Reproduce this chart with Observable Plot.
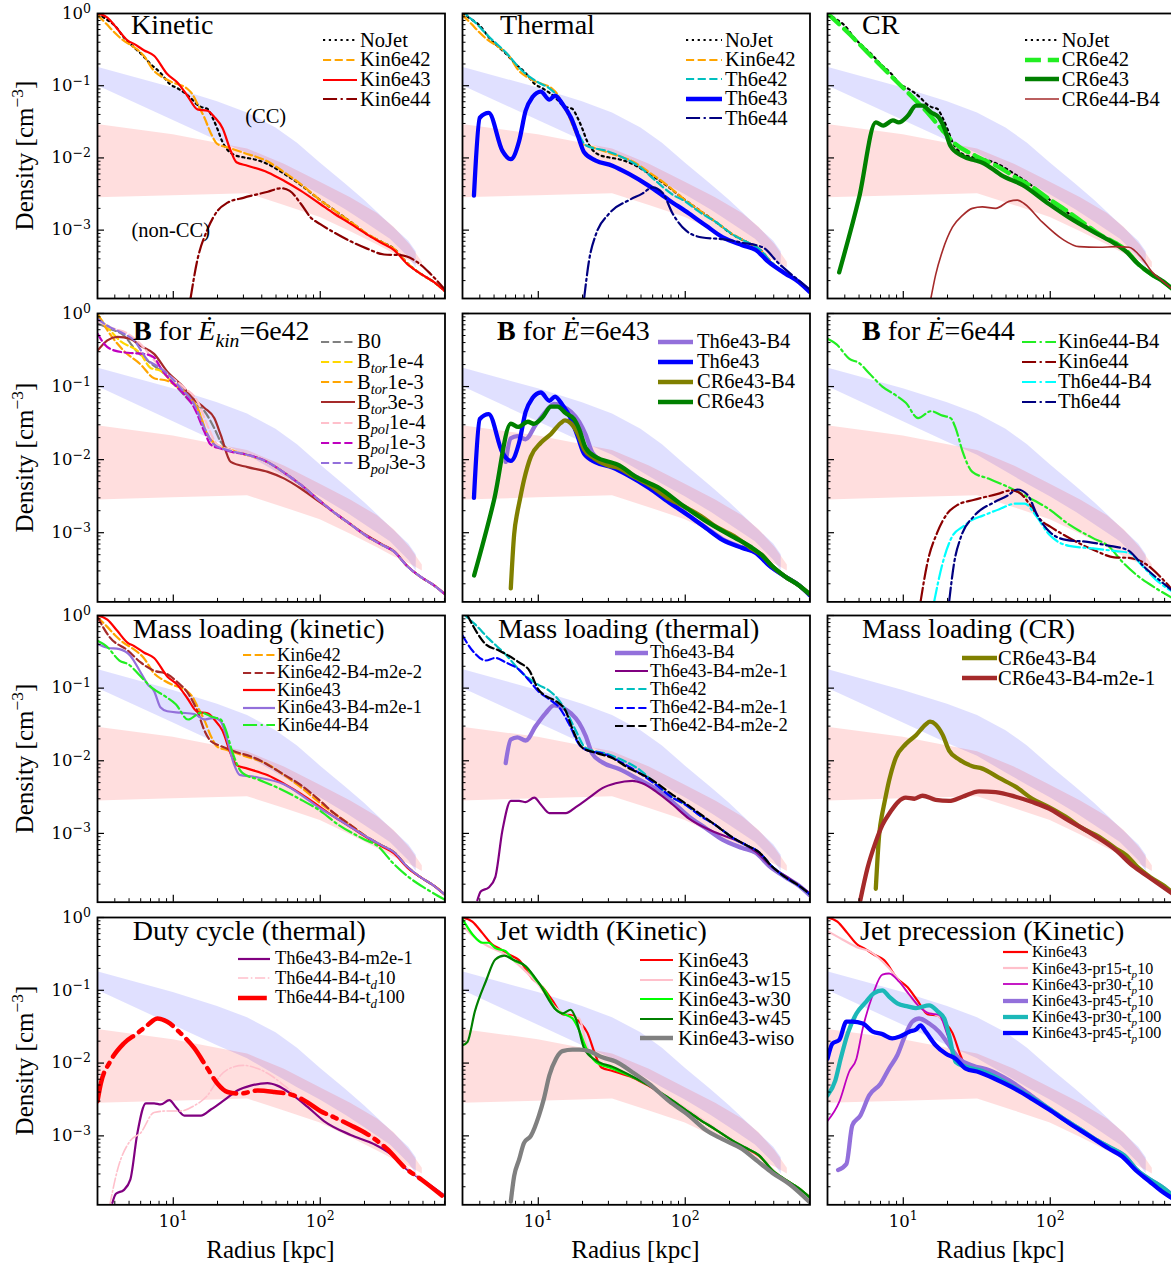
<!DOCTYPE html>
<html>
<head>
<meta charset="utf-8">
<script src="https://cdn.jsdelivr.net/npm/d3@7"></script>
<script src="https://cdn.jsdelivr.net/npm/@observablehq/plot@0.6"></script>
<style>
  body { margin: 0; background: #fff; }
  #fig { position: relative; width: 1171px; height: 1267px; overflow: hidden; background: #fff;
         font-family: "Liberation Serif", "DejaVu Serif", serif; color: #000; }
  .abs { position: absolute; white-space: nowrap; line-height: 1; }
  .abs sub, .abs sup { font-size: 0.7em; line-height: 0; }
  #fig svg text.ticklab { font-family: "DejaVu Serif", serif !important; font-size: 16.5px !important; }
  #fig svg text.ticklab tspan.exp { font-size: 12.5px !important; }
</style>
</head>
<body>
<div id="fig"></div>
<script>
// ---------- density profiles: [radius (kpc), electron density (cm^-3)] ----------
const noJet = [[3.05,1.0],[3.6,0.8],[4.0,0.68],[4.6,0.47],[5.4,0.34],[6.0,0.28],[7.0,0.2],[8.2,0.15],[9.5,0.105],[10.7,0.092],[11.9,0.08],[13.1,0.068],[14.5,0.055],[15.8,0.05],[17,0.048],[18.5,0.036],[20,0.025],[21.5,0.017],[23,0.0135],[26,0.011],[30,0.0102],[36,0.0095],[44,0.0082],[57,0.006],[74,0.0042],[100,0.0026],[124,0.0019],[161,0.0013],[210,0.00087],[260,0.00069],[318,0.00055],[390,0.00035],[480,0.00025],[595,0.00019],[706,0.000143]];
const kin6e42 = [[3.05,0.95],[3.5,0.72],[4.0,0.54],[4.6,0.42],[5.2,0.36],[6.3,0.26],[7.4,0.16],[8.5,0.13],[10,0.11],[11.5,0.1],[12.5,0.09],[13.5,0.076],[14.6,0.056],[16.3,0.036],[18,0.022],[20,0.0155],[23.4,0.014],[30,0.0118],[44,0.0089],[57,0.0063],[74,0.0043],[100,0.0026],[124,0.0019],[161,0.0013],[210,0.00088],[260,0.00069],[318,0.00055],[390,0.00035],[480,0.00025],[595,0.00019],[706,0.000143]];
const kin6e43 = [[3.05,1.0],[3.56,0.88],[4.17,0.61],[4.9,0.42],[5.4,0.38],[6.3,0.31],[7.4,0.26],[9.1,0.145],[10.7,0.11],[12.5,0.072],[14.6,0.047],[17.1,0.045],[19,0.037],[21.6,0.026],[24.6,0.0125],[26.9,0.0087],[32,0.0078],[44,0.0063],[57,0.0048],[74,0.0035],[100,0.0023],[124,0.0017],[161,0.00122],[210,0.00086],[260,0.00067],[318,0.00053],[390,0.00034],[480,0.00025],[595,0.00019],[706,0.000142]];
const kin6e44 = [[13.1,0.000113],[14.6,0.00039],[17,0.001],[20,0.00185],[23.4,0.0024],[30,0.0028],[44,0.0034],[54,0.0038],[62,0.0035],[74,0.0023],[86,0.0015],[100,0.00121],[124,0.00093],[161,0.0007],[210,0.00055],[272,0.00046],[353,0.00045],[458,0.00036],[560,0.00025],[706,0.00015]];
const th6e42 = [[3.05,1.15],[3.2,1.0],[3.7,0.76],[4.6,0.48],[6.0,0.29],[7.8,0.16],[10.1,0.11],[11.9,0.092],[13.2,0.076],[15.4,0.049],[18,0.026],[21,0.015],[29,0.0125],[37,0.0103],[49,0.0075],[63,0.0048],[82,0.0031],[100,0.0025],[124,0.0018],[161,0.0013],[210,0.00087],[260,0.00069],[318,0.00055],[390,0.00035],[480,0.00025],[595,0.00019],[706,0.000143]];
const th6e43 = [[3.65,0.003],[4.0,0.036],[4.6,0.042],[5.7,0.0125],[6.5,0.0096],[7.4,0.017],[8.2,0.045],[9.1,0.069],[10.4,0.083],[11.9,0.064],[13.0,0.073],[14.6,0.056],[16.7,0.036],[18.5,0.021],[20.5,0.012],[24.6,0.0092],[31.9,0.0078],[41.4,0.006],[56.6,0.0041],[77.6,0.0026],[106,0.0017],[138,0.00116],[179,0.0008],[244,0.00062],[302,0.00053],[370,0.00036],[480,0.00025],[595,0.00019],[706,0.000138]];
const th6e44 = [[20.5,0.000113],[22.2,0.00039],[24.6,0.00086],[30.4,0.0017],[41.4,0.0026],[51,0.0032],[59.8,0.0039],[70,0.0033],[82,0.0017],[101,0.00099],[131,0.00079],[179,0.00075],[244,0.00067],[335,0.00058],[436,0.00034],[593,0.0002],[706,0.00015]];
const cr6e42 = [[3.05,1.0],[4.3,0.52],[5.6,0.3],[7.2,0.18],[9.4,0.105],[12.2,0.062],[15,0.04],[18.5,0.024],[22.7,0.0155],[31,0.0107],[45,0.0074],[58,0.0054],[75,0.004],[98,0.0027],[127,0.0019],[165,0.0013],[215,0.00088],[279,0.00066],[330,0.00052],[390,0.00035],[480,0.00025],[595,0.00019],[706,0.000143]];
const cr6e43 = [[3.66,0.00026],[5.0,0.0028],[6.5,0.031],[7.3,0.028],[8.5,0.033],[9.3,0.031],[10.7,0.038],[12.2,0.053],[13.5,0.053],[15.4,0.043],[17.5,0.036],[19,0.026],[21,0.0145],[25,0.0107],[31,0.0092],[34.5,0.0086],[47,0.0057],[65,0.0042],[98,0.0023],[134,0.0015],[215,0.00086],[279,0.00064],[330,0.0005],[390,0.00035],[480,0.00025],[595,0.00019],[706,0.000143]];
const cr6e44B4 = [[15.4,0.000113],[16.6,0.00024],[18.5,0.00052],[21.6,0.0011],[25.3,0.0016],[29.5,0.002],[34.5,0.0021],[42.5,0.002],[52.4,0.0025],[59.8,0.0026],[67,0.0023],[88,0.0013],[121,0.00075],[157,0.00059],[215,0.00058],[279,0.00059],[343,0.00058],[424,0.0004],[496,0.00026],[575,0.0002],[706,0.000143]];
const b0 = [[3.05,0.73],[3.7,0.62],[4.6,0.5],[5.6,0.31],[7,0.21],[8.7,0.15],[10.7,0.096],[13,0.063],[16.3,0.046],[19,0.027],[21,0.0176],[24.6,0.0135],[30,0.012],[44,0.0092],[57,0.0066],[74,0.0045],[100,0.0027],[124,0.0019],[161,0.0013],[210,0.00088],[260,0.00069],[318,0.00055],[390,0.00035],[480,0.00025],[595,0.00019],[706,0.000143]];
const btor1e4 = [[3.05,0.95],[3.56,0.65],[4.3,0.43],[6,0.28],[7,0.18],[8.2,0.165],[9.6,0.12],[12.5,0.078],[14.6,0.051],[17.1,0.022],[20,0.015],[24.6,0.0135],[30,0.012],[44,0.0092],[57,0.0066],[74,0.0045],[100,0.0027],[124,0.0019],[161,0.0013],[210,0.00088],[260,0.00069],[318,0.00055],[390,0.00035],[480,0.00025],[595,0.00019],[706,0.000143]];
const btor1e3 = [[3.05,1.0],[3.56,0.59],[4.6,0.31],[6,0.2],[7.4,0.13],[9.1,0.12],[11.9,0.082],[14.6,0.051],[17,0.022],[20,0.016],[24.6,0.0135],[30,0.012],[44,0.0092],[57,0.0066],[74,0.0045],[100,0.0027],[124,0.0019],[161,0.0013],[210,0.00088],[260,0.00069],[318,0.00055],[390,0.00035],[480,0.00025],[595,0.00019],[706,0.000143]];
const btor3e3 = [[3.05,0.31],[3.56,0.43],[4.17,0.48],[5.1,0.45],[6,0.36],[7.4,0.28],[9.1,0.16],[11.2,0.108],[13.9,0.066],[16.3,0.051],[19,0.037],[21,0.022],[24.6,0.0093],[32,0.0079],[44,0.0068],[57,0.0055],[74,0.004],[100,0.0026],[124,0.0019],[161,0.0013],[210,0.0009],[260,0.0007],[318,0.00056],[390,0.00035],[480,0.00025],[595,0.00019],[706,0.000145]];
const bpol1e4 = [[3.05,0.81],[3.7,0.65],[4.9,0.53],[6,0.38],[7.4,0.23],[9.1,0.15],[11.9,0.096],[14.6,0.063],[17,0.03],[20,0.016],[24.6,0.0135],[30,0.012],[44,0.0092],[57,0.0066],[74,0.0045],[100,0.0027],[124,0.0019],[161,0.0013],[210,0.00088],[260,0.00069],[318,0.00055],[390,0.00035],[480,0.00025],[595,0.00019],[706,0.000143]];
const bpol1e3 = [[3.05,0.53],[3.4,0.38],[4.0,0.31],[4.9,0.29],[6.3,0.28],[7.4,0.25],[8.2,0.18],[9.6,0.12],[11.9,0.078],[13.9,0.051],[16.3,0.024],[18,0.016],[21,0.0142],[26,0.0125],[30,0.012],[44,0.0092],[57,0.0066],[74,0.0045],[100,0.0027],[124,0.0019],[161,0.0013],[210,0.00088],[260,0.00069],[318,0.00055],[390,0.00035],[480,0.00025],[595,0.00019],[706,0.000143]];
const bpol3e3 = [[3.05,0.85],[3.7,0.65],[4.6,0.53],[5.4,0.43],[6.7,0.23],[7.8,0.19],[9.1,0.15],[11.2,0.096],[13.9,0.057],[16.3,0.027],[19,0.016],[23.4,0.0135],[30,0.012],[44,0.0092],[57,0.0066],[74,0.0045],[100,0.0027],[124,0.0019],[161,0.0013],[210,0.00088],[260,0.00069],[318,0.00055],[390,0.00035],[480,0.00025],[595,0.00019],[706,0.000143]];
const th6e43B4 = [[6.0,0.0093],[6.5,0.0196],[7.2,0.021],[8.2,0.019],[9.6,0.03],[11.2,0.045],[12.8,0.058],[14.6,0.054],[16.7,0.045],[19,0.033],[21,0.022],[23.3,0.0125],[27.3,0.0095],[35.5,0.0077],[48.6,0.0055],[63,0.0041],[82,0.0027],[106,0.0017],[138,0.00118],[179,0.00082],[244,0.00063],[302,0.00054],[370,0.00036],[480,0.00025],[595,0.00019],[706,0.00014]];
const cr6e43B4 = [[6.5,0.000173],[6.85,0.00095],[7.2,0.0019],[7.4,0.0025],[8.0,0.0053],[8.9,0.011],[10.4,0.017],[12.2,0.0225],[14.2,0.0316],[15.2,0.0345],[16.6,0.0316],[18.5,0.0229],[20.5,0.0138],[24,0.0104],[29.5,0.0084],[34.5,0.0078],[44.9,0.0058],[58,0.0044],[75.5,0.003],[98,0.0023],[127,0.0017],[165,0.00118],[215,0.0009],[279,0.00062],[330,0.0005],[390,0.00035],[480,0.00025],[595,0.00019],[706,0.000143]];
const kin6e44B4 = [[3.05,0.45],[3.5,0.38],[4.3,0.24],[5,0.21],[5.9,0.15],[7.2,0.1],[8.9,0.076],[10.4,0.06],[12.6,0.037],[15.4,0.046],[18.5,0.04],[21,0.037],[22.7,0.027],[25.3,0.013],[29.5,0.0068],[38,0.0055],[52,0.0042],[72,0.003],[98,0.0021],[134,0.0013],[194,0.00085],[250,0.00065],[309,0.0004],[400,0.00025],[520,0.000175],[706,0.000122]];
const th6e44B4 = [[16.2,0.000113],[18.5,0.00038],[21.6,0.0009],[25.3,0.0012],[29.5,0.0015],[34.5,0.0017],[45,0.0021],[58,0.0025],[67,0.0025],[80,0.0017],[98,0.00095],[134,0.00066],[194,0.00061],[279,0.00056],[343,0.00053],[424,0.00035],[520,0.00023],[706,0.000148]];
const kin6e42B4m2e2 = [[3.05,0.95],[3.7,0.5],[4.9,0.33],[6,0.226],[7.4,0.174],[9.1,0.156],[10.7,0.12],[12.5,0.087],[14.6,0.048],[16.3,0.026],[18,0.0186],[21,0.016],[25.9,0.0135],[35.5,0.011],[57,0.0064],[74,0.0046],[100,0.0028],[124,0.0019],[161,0.0013],[210,0.00088],[260,0.00069],[318,0.00055],[390,0.00035],[480,0.00025],[595,0.00019],[706,0.000145]];
const kin6e43B4m2e1 = [[3.05,0.405],[3.56,0.36],[4.3,0.345],[5.1,0.28],[6,0.164],[6.7,0.113],[7.4,0.091],[8.2,0.054],[9.1,0.048],[11.2,0.046],[13.9,0.044],[16.3,0.037],[19,0.039],[21,0.035],[23.4,0.0186],[25.9,0.0089],[28.3,0.0064],[35.5,0.006],[57,0.0047],[74,0.0034],[100,0.0022],[124,0.0017],[161,0.00122],[210,0.00088],[260,0.00069],[318,0.00055],[390,0.00035],[480,0.00025],[595,0.00019],[706,0.000143]];
const th6e43B4m2e1 = [[3.85,0.00012],[4.07,0.00016],[4.6,0.00018],[5.1,0.00025],[5.7,0.0011],[6.5,0.0028],[7.4,0.0028],[8.2,0.0027],[9.4,0.0031],[10.4,0.0025],[11.9,0.0019],[13.2,0.0019],[15.4,0.0019],[18,0.0023],[22.2,0.0031],[27.3,0.0042],[33.6,0.0049],[43.7,0.0053],[51,0.0049],[63,0.0038],[82,0.0025],[106,0.0016],[161,0.00103],[232,0.00077],[302,0.00056],[392,0.00034],[508,0.00024],[706,0.00015]];
const th6e42B4m2e1 = [[3.05,0.53],[3.56,0.33],[4.4,0.24],[5.1,0.26],[6,0.226],[7.4,0.18],[8.7,0.126],[10,0.091],[11.9,0.07],[13.9,0.054],[16.2,0.032],[19,0.0167],[21,0.0142],[28.8,0.0122],[37.4,0.0093],[48.6,0.0068],[63,0.0047],[82,0.0031],[100,0.0025],[124,0.0018],[161,0.0013],[210,0.00087],[260,0.00069],[318,0.00055],[390,0.00035],[480,0.00025],[595,0.00019],[706,0.000145]];
const th6e42B4m2e2 = [[3.3,1.0],[4.4,0.4],[5.4,0.33],[7.4,0.226],[8.7,0.174],[10,0.096],[11.2,0.078],[13.2,0.066],[15.4,0.048],[17,0.028],[20,0.015],[24.6,0.0129],[31.9,0.0109],[41.4,0.0079],[56.6,0.0058],[82,0.0034],[100,0.0026],[124,0.0019],[161,0.0013],[210,0.00088],[260,0.00069],[318,0.00055],[390,0.00035],[480,0.00025],[595,0.00019],[706,0.000145]];
const cr6e43B4m2e1 = [[5.1,0.00012],[5.7,0.00033],[6.5,0.00077],[7.2,0.0013],[8.2,0.002],[9.2,0.0027],[10.4,0.0031],[11.9,0.003],[13.5,0.0033],[16.6,0.0029],[20.5,0.0028],[25.3,0.0032],[32.8,0.0038],[42.5,0.0037],[58,0.0032],[75.5,0.0027],[98,0.0022],[127,0.0016],[165,0.00118],[215,0.00085],[279,0.00059],[363,0.00036],[470,0.00025],[706,0.00014]];
const th6e44B4td10 = [[3.7,0.000113],[4.17,0.00034],[5.1,0.00086],[6,0.0011],[7.4,0.0021],[9.1,0.0022],[11.2,0.0022],[13.9,0.0026],[17.1,0.0036],[21,0.0068],[25.9,0.0089],[30,0.0093],[37.5,0.0084],[46,0.0068],[57,0.0049],[74,0.0032],[100,0.0022],[161,0.0014],[210,0.0011],[353,0.00043],[480,0.00026],[706,0.00015]];
const th6e44B4td100 = [[3.05,0.003],[3.21,0.0052],[3.7,0.0103],[4.6,0.0186],[5.7,0.0257],[6.7,0.0334],[7.8,0.041],[9.1,0.037],[11.2,0.0257],[13.9,0.016],[17.1,0.0084],[20,0.0052],[23.4,0.004],[28.3,0.0038],[37.5,0.0042],[48.7,0.004],[66,0.0036],[81.5,0.0029],[100,0.0022],[124,0.0018],[161,0.0014],[210,0.00105],[285,0.00066],[380,0.00036],[490,0.00025],[706,0.00014]];
const kin6e43w15 = [[3.05,0.77],[3.7,0.53],[4.6,0.4],[6,0.31],[7.8,0.2],[10,0.12],[13.2,0.057],[16.2,0.044],[19,0.041],[21,0.0196],[24.6,0.0104],[31.9,0.0086],[44,0.0066],[57,0.005],[74,0.0036],[100,0.0024],[124,0.0018],[161,0.00125],[210,0.00087],[260,0.00069],[318,0.00055],[390,0.00035],[480,0.00025],[595,0.00019],[706,0.000143]];
const kin6e43w30 = [[3.05,0.95],[3.56,0.59],[4.17,0.45],[4.6,0.45],[5.1,0.38],[6,0.345],[6.7,0.265],[8.2,0.214],[9.6,0.14],[11.2,0.096],[13.2,0.054],[14.6,0.048],[17.1,0.041],[19,0.028],[21,0.0167],[24.6,0.0104],[31.9,0.0084],[44,0.0064],[57,0.0049],[74,0.0035],[100,0.0023],[124,0.0017],[161,0.00122],[210,0.00086],[260,0.00068],[318,0.00054],[390,0.00034],[480,0.00025],[595,0.00019],[706,0.000142]];
const kin6e43w45 = [[3.05,0.0176],[3.3,0.0196],[3.7,0.051],[4.4,0.133],[5.1,0.265],[5.86,0.3],[6.7,0.265],[8.2,0.214],[10.1,0.126],[13.2,0.054],[14.6,0.048],[16.6,0.054],[18,0.041],[20.5,0.016],[24.6,0.0109],[31.9,0.0089],[44,0.0065],[57,0.0049],[74,0.0035],[100,0.0023],[124,0.0017],[161,0.00122],[210,0.00086],[260,0.00068],[318,0.00054],[390,0.00034],[480,0.00025],[595,0.00019],[706,0.000142]];
const kin6e43wiso = [[6.5,0.000125],[6.85,0.00028],[7.4,0.00047],[8,0.0008],[8.9,0.001],[10.1,0.0019],[10.9,0.0032],[11.9,0.0068],[13.2,0.0115],[14.6,0.0146],[17.1,0.0153],[19,0.0153],[22.2,0.0146],[27.3,0.012],[33.6,0.0105],[43.7,0.0075],[56.6,0.0052],[77.6,0.003],[106,0.0019],[138,0.0012],[179,0.0009],[244,0.00066],[302,0.00047],[392,0.00031],[508,0.00022],[706,0.000122]];
const pr15tp10 = [[3.05,0.65],[3.85,0.5],[5,0.38],[5.86,0.345],[7.2,0.25],[8.9,0.155],[10.4,0.1],[12.2,0.066],[14.2,0.051],[17,0.045],[19.5,0.035],[22,0.0125],[26,0.0092],[32,0.0079],[44,0.0064],[57,0.0049],[74,0.0035],[100,0.0023],[124,0.0017],[161,0.00122],[210,0.00086],[260,0.00068],[318,0.00054],[390,0.00034],[480,0.00025],[595,0.00019],[706,0.000142]];
const pr30tp10 = [[3.05,0.0016],[3.66,0.0029],[4.28,0.0076],[4.8,0.0115],[5.3,0.03],[6.2,0.087],[7.2,0.164],[8.0,0.17],[9.4,0.13],[11,0.087],[12.8,0.06],[15,0.048],[17.5,0.046],[20,0.024],[22.7,0.0115],[26.6,0.0093],[34.5,0.0084],[44,0.0065],[57,0.0049],[74,0.0035],[100,0.0023],[124,0.0017],[161,0.00122],[210,0.00086],[260,0.00068],[318,0.00054],[390,0.00034],[480,0.00025],[595,0.00019],[706,0.000142]];
const pr45tp10 = [[3.6,0.00034],[4.1,0.00041],[4.5,0.0014],[5.1,0.0019],[5.86,0.0036],[7.0,0.0052],[8.0,0.0084],[9.1,0.0128],[10.1,0.0218],[11.5,0.037],[12.8,0.041],[15,0.035],[17.5,0.027],[20.5,0.0176],[24,0.0115],[29.5,0.0093],[38.5,0.008],[52.5,0.0058],[74,0.0036],[100,0.0023],[124,0.0017],[161,0.00122],[210,0.00086],[260,0.00068],[318,0.00054],[390,0.00034],[480,0.00025],[595,0.00019],[706,0.000142]];
const pr30tp100 = [[3.05,0.0036],[3.45,0.0058],[3.75,0.0115],[4.2,0.026],[4.8,0.048],[5.6,0.07],[6.3,0.091],[7.2,0.1],[8,0.082],[9.1,0.066],[10.7,0.06],[12.2,0.057],[15,0.062],[17.2,0.051],[19,0.041],[20.5,0.024],[22.7,0.0104],[26.6,0.0089],[34.5,0.0078],[44,0.0062],[57,0.0046],[74,0.0034],[100,0.0023],[124,0.0017],[161,0.00122],[210,0.00086],[260,0.00068],[318,0.00054],[390,0.00034],[480,0.00025],[595,0.00019],[706,0.000142]];
const pr45tp100 = [[3.05,0.0115],[3.3,0.0186],[3.66,0.0207],[4.1,0.037],[4.5,0.037],[5.3,0.035],[6.2,0.027],[7.2,0.025],[8.4,0.0218],[9.4,0.023],[11,0.027],[12.2,0.029],[13.1,0.033],[14.2,0.027],[16.6,0.0176],[19.5,0.0134],[22.7,0.0115],[26.6,0.0084],[32.8,0.0075],[42.5,0.006],[58,0.0044],[75.5,0.0032],[98,0.0023],[134,0.0015],[184,0.001],[250,0.00067],[309,0.00052],[380,0.00034],[470,0.00024],[570,0.000175],[706,0.000132]];

// ---------- observed cluster ranges (shaded bands) ----------
const ccR  = [3.05, 10, 20, 32, 50, 70, 100, 150, 200, 300, 400, 450];
const ccHi = [0.18, 0.093, 0.06, 0.042, 0.026, 0.016, 0.0085, 0.0043, 0.0026, 0.0012, 0.0007, 0.0005];
const ccLo = [0.1, 0.033, 0.0173, 0.0115, 0.0068, 0.0046, 0.0031, 0.0019, 0.0013, 0.00075, 0.00042, 0.0003];
const nonCcR  = [3.05, 10, 32, 57, 100, 161, 245, 318, 410, 495];
const nonCcHi = [0.029, 0.021, 0.0133, 0.0082, 0.0046, 0.0028, 0.0017, 0.0011, 0.00062, 0.00036];
const nonCcLo = [0.0028, 0.003, 0.0032, 0.0022, 0.0015, 0.00095, 0.00062, 0.00047, 0.00037, 0.0003];
const bandNoteText = ["(CC)", "(non-CC)"];
const bandNoteR = [42.5, 9.6];
const bandNoteN = [0.037, 0.00098];

// ---------- axis ticks ----------
const majorY = [1, 0.1, 0.01, 0.001];
const minorY = [2e-4,3e-4,4e-4,5e-4,6e-4,7e-4,8e-4,9e-4,2e-3,3e-3,4e-3,5e-3,6e-3,7e-3,8e-3,9e-3,0.02,0.03,0.04,0.05,0.06,0.07,0.08,0.09,0.2,0.3,0.4,0.5,0.6,0.7,0.8,0.9];
const majorX = [10, 100];
const minorX = [4,5,6,7,8,9,20,30,40,50,60,70,80,90,200,300,400,500,600,700];

// ---------- line styles (matplotlib-like dash patterns scaled by width) ----------
const dash = (kind, w) => kind === ":" ? `${1*w},${1.65*w}`
  : kind === "--" ? `${3.7*w},${1.6*w}`
  : kind === "-." ? `${6.4*w},${1.6*w},${1*w},${1.6*w}` : null;
const L = (data, label, color, width, style = "-") => ({data, label, color, width, dash: dash(style, width)});
const TH = 4.3, N = 2.2, TN = 1.6;

const panels = [
  {title: "Kinetic", tb: 21.6, tl: 34.3,
   leg: {x: 226.3, tx: 263.3, y: 27.3, dy: 19.8, fs: 20.5, len: 34}, notes: true,
   series: [L(noJet, "NoJet", "black", N, ":"), L(kin6e42, "Kin6e42", "orange", N, "--"),
            L(kin6e43, "Kin6e43", "red", N), L(kin6e44, "Kin6e44", "#8b0000", N, "-.")]},
  {title: "Thermal", tb: 21.6, tl: 38.3,
   leg: {x: 224.3, tx: 263.3, y: 27.3, dy: 19.5, fs: 20.5, len: 36},
   series: [L(noJet, "NoJet", "black", N, ":"), L(kin6e42, "Kin6e42", "orange", N, "--"),
            L(th6e42, "Th6e42", "#00bfbf", N, "--"), L(th6e43, "Th6e43", "blue", TH),
            L(th6e44, "Th6e44", "#000080", N, "-.")]},
  {title: "CR", tb: 21.6, tl: 35.3,
   leg: {x: 198.3, tx: 235, y: 27.3, dy: 19.6, fs: 20.5, len: 34},
   series: [L(noJet, "NoJet", "black", N, ":"), L(cr6e42, "CR6e42", "#22ee22", TH, "--"),
            L(cr6e43, "CR6e43", "green", TH), L(cr6e44B4, "CR6e44-B4", "#a52a2a", TN)]},
  {title: "<b>B</b> for <i>Ė</i><sub><i>kin</i></sub>=6e42", tb: 27.4, tl: 36.3,
   leg: {x: 224.3, tx: 260.3, y: 28.4, dy: 20.2, fs: 20.5, len: 34},
   series: [L(b0, "B0", "gray", N, "--"), L(btor1e4, "B<sub><i>tor</i></sub>1e-4", "gold", N, "--"),
            L(btor1e3, "B<sub><i>tor</i></sub>1e-3", "orange", N, "--"), L(btor3e3, "B<sub><i>tor</i></sub>3e-3", "#a52a2a", N),
            L(bpol1e4, "B<sub><i>pol</i></sub>1e-4", "pink", N, "--"), L(bpol1e3, "B<sub><i>pol</i></sub>1e-3", "#bf00bf", N, "--"),
            L(bpol3e3, "B<sub><i>pol</i></sub>3e-3", "mediumpurple", N, "--")]},
  {title: "<b>B</b> for <i>Ė</i>=6e43", tb: 27.4, tl: 35.3,
   leg: {x: 196.3, tx: 235.3, y: 28.4, dy: 20, fs: 20.5, len: 35},
   series: [L(th6e43B4, "Th6e43-B4", "mediumpurple", TH), L(th6e43, "Th6e43", "blue", TH),
            L(cr6e43B4, "CR6e43-B4", "olive", TH), L(cr6e43, "CR6e43", "green", TH)]},
  {title: "<b>B</b> for <i>Ė</i>=6e44", tb: 27.4, tl: 35.3,
   leg: {x: 195.3, tx: 231.3, y: 28.4, dy: 20, fs: 20.5, len: 34},
   series: [L(kin6e44B4, "Kin6e44-B4", "#22ee22", N, "-."), L(kin6e44, "Kin6e44", "#8b0000", N, "-."),
            L(th6e44B4, "Th6e44-B4", "cyan", N, "-."), L(th6e44, "Th6e44", "#000080", N, "-.")]},
  {title: "Mass loading (kinetic)", tb: 23.3, tl: 36,
   leg: {x: 146.3, tx: 180.3, y: 40, dy: 17.5, fs: 18.5, len: 32},
   series: [L(kin6e42, "Kin6e42", "orange", N, "--"), L(kin6e42B4m2e2, "Kin6e42-B4-m2e-2", "#a52a2a", N, "--"),
            L(kin6e43, "Kin6e43", "red", N), L(kin6e43B4m2e1, "Kin6e43-B4-m2e-1", "mediumpurple", N),
            L(kin6e44B4, "Kin6e44-B4", "#22ee22", N, "-.")]},
  {title: "Mass loading (thermal)", tb: 23.3, tl: 36.3,
   leg: {x: 153.3, tx: 188.3, y: 38, dy: 18.2, fs: 18.5, len: 33},
   series: [L(th6e43B4, "Th6e43-B4", "mediumpurple", TH), L(th6e43B4m2e1, "Th6e43-B4-m2e-1", "purple", N),
            L(th6e42, "Th6e42", "#00bfbf", N, "--"), L(th6e42B4m2e1, "Th6e42-B4-m2e-1", "blue", N, "--"),
            L(th6e42B4m2e2, "Th6e42-B4-m2e-2", "black", N, "--")]},
  {title: "Mass loading (CR)", tb: 23.3, tl: 35.3,
   leg: {x: 135.3, tx: 171.3, y: 43, dy: 20, fs: 20.5, len: 35},
   series: [L(cr6e43B4, "CR6e43-B4", "olive", TH), L(cr6e43B4m2e1, "CR6e43-B4-m2e-1", "#a52a2a", TH)]},
  {title: "Duty cycle (thermal)", tb: 23.3, tl: 36,
   leg: {x: 141.3, tx: 178.3, y: 42, dy: 19.5, fs: 18.5, len: 32},
   series: [L(th6e43B4m2e1, "Th6e43-B4-m2e-1", "purple", N), L(th6e44B4td10, "Th6e44-B4-t<sub><i>d</i></sub>10", "pink", TN, "-."),
            L(th6e44B4td100, "Th6e44-B4-t<sub><i>d</i></sub>100", "red", 4.5, "-.")]},
  {title: "Jet width (Kinetic)", tb: 23.3, tl: 35.3,
   leg: {x: 178.3, tx: 216.3, y: 43.3, dy: 19.5, fs: 20.5, len: 33},
   series: [L(kin6e43, "Kin6e43", "red", N), L(kin6e43w15, "Kin6e43-w15", "pink", N),
            L(kin6e43w30, "Kin6e43-w30", "lime", N), L(kin6e43w45, "Kin6e43-w45", "green", N),
            L(kin6e43wiso, "Kin6e43-wiso", "gray", TH)]},
  {title: "Jet precession (Kinetic)", tb: 23.3, tl: 33.3,
   leg: {x: 176.3, tx: 205.3, y: 35.3, dy: 16.2, fs: 16, len: 25},
   series: [L(kin6e43, "Kin6e43", "red", N), L(pr15tp10, "Kin6e43-pr15-t<sub><i>p</i></sub>10", "pink", N),
            L(pr30tp10, "Kin6e43-pr30-t<sub><i>p</i></sub>10", "#bf00bf", 1.8), L(pr45tp10, "Kin6e43-pr45-t<sub><i>p</i></sub>10", "mediumpurple", TH),
            L(pr30tp100, "Kin6e43-pr30-t<sub><i>p</i></sub>100", "#1cb8b8", TH), L(pr45tp100, "Kin6e43-pr45-t<sub><i>p</i></sub>100", "blue", TH)]}
];

// ---------- layout ----------
const fig = document.getElementById("fig");
const frameLeft = [96.7, 461.7, 826.7];
const frameTop = [12.7, 313.3, 615, 916.7];
const frameH = [285, 288.4, 286.7, 287.3];
const frameW = 347.5;
const M = {l: 60, r: 8, t: 8, b: 44};
const SVGNS = "http://www.w3.org/2000/svg";

const ccBand = ccR.map((r, i) => ({r, lo: ccLo[i], hi: ccHi[i]}));
const nonCcBand = nonCcR.map((r, i) => ({r, lo: nonCcLo[i], hi: nonCcHi[i]}));
const bandNotes = bandNoteText.map((t, i) => ({t, r: bandNoteR[i], n: bandNoteN[i]}));

function addDiv(html, left, top, css = "") {
  const d = document.createElement("div");
  d.className = "abs";
  d.style.cssText = `left:${left}px;top:${top}px;${css}`;
  d.innerHTML = html;
  fig.appendChild(d);
  return d;
}

// turn "10^-2" tick texts into a base with a raised exponent (math-style font)
function superscriptTicks(svg) {
  svg.querySelectorAll("text").forEach(t => {
    const s = t.textContent;
    if (!/^10\^/.test(s)) return;
    const [base, exp] = s.split("^");
    t.textContent = "";
    t.setAttribute("class", "ticklab");
    t.setAttribute("font-family", "DejaVu Serif");
    t.setAttribute("font-size", "16.5");
    const a = document.createElementNS(SVGNS, "tspan");
    a.textContent = base;
    const b = document.createElementNS(SVGNS, "tspan");
    b.textContent = exp.replace("-", "\u2212");
    b.setAttribute("class", "exp");
    b.setAttribute("dy", "-0.5em");
    b.setAttribute("font-size", "12.5");
    t.append(a, b);
  });
}

const expFmt = d => "10^" + Math.round(Math.log10(d));

panels.forEach((p, k) => {
  const col = k % 3, row = Math.floor(k / 3);
  const fl = frameLeft[col], ft = frameTop[row], fh = frameH[row];

  const marks = [
    Plot.areaY(ccBand, {x: "r", y1: "lo", y2: "hi", fill: "#0000ff", fillOpacity: 0.12, clip: true}),
    Plot.areaY(nonCcBand, {x: "r", y1: "lo", y2: "hi", fill: "#ff0000", fillOpacity: 0.13, clip: true}),
    ...p.series.map(s => Plot.line(s.data, {
      x: d => d[0], y: d => d[1], stroke: s.color, strokeWidth: s.width,
      strokeDasharray: s.dash, strokeLinejoin: "round", curve: "monotone-x", clip: true
    })),
    Plot.axisY(majorY, {tickSize: -7, fill: "none", label: null, strokeWidth: 1.2}),
    Plot.axisY(minorY, {tickSize: -3.5, fill: "none", label: null, strokeWidth: 1}),
    Plot.axisX(majorX, {tickSize: -7, fill: "none", label: null, strokeWidth: 1.2}),
    Plot.axisX(minorX, {tickSize: -3.5, fill: "none", label: null, strokeWidth: 1}),
    Plot.frame({stroke: "black", strokeWidth: 1.8})
  ];
  if (col === 0) marks.push(Plot.axisY(majorY, {tickSize: 0, tickPadding: 6.5, tickFormat: expFmt, label: null}));
  if (row === 3) marks.push(Plot.axisX(majorX, {tickSize: 0, tickPadding: 10, tickFormat: expFmt, label: null}));
  if (p.notes) marks.push(Plot.text(bandNotes, {x: "r", y: "n", text: "t", fontSize: 20.5, fill: "black"}));

  const svg = Plot.plot({
    width: M.l + frameW + M.r,
    height: M.t + fh + M.b,
    marginLeft: M.l, marginRight: M.r, marginTop: M.t, marginBottom: M.b,
    x: {type: "log", domain: [3.05, 706]},
    y: {type: "log", domain: [1.13e-4, 1]},
    style: "background:none;overflow:visible;font-family:'Liberation Serif','DejaVu Serif',serif;font-size:16.5px;color:black;",
    marks
  });
  svg.style.position = "absolute";
  svg.style.left = (fl - M.l) + "px";
  svg.style.top = (ft - M.t) + "px";
  svg.style.maxWidth = "none";
  fig.appendChild(svg);
  superscriptTicks(svg);

  // panel title
  addDiv(p.title, fl + p.tl, ft + p.tb - 0.8375 * 28, "font-size:28px;");

  // legend: line sample plus label, one row per series
  const g = p.leg;
  const lh = Math.min(g.fs, g.dy - 1);
  p.series.forEach((s, i) => {
    const cy = ft + g.y + i * g.dy;
    const ls = document.createElementNS(SVGNS, "svg");
    ls.setAttribute("width", g.len);
    ls.setAttribute("height", 12);
    ls.style.cssText = `position:absolute;left:${fl + g.x}px;top:${cy - 6}px;overflow:visible;`;
    const ln = document.createElementNS(SVGNS, "line");
    ln.setAttribute("x1", 0); ln.setAttribute("x2", g.len);
    ln.setAttribute("y1", 6); ln.setAttribute("y2", 6);
    ln.setAttribute("stroke", s.color);
    ln.setAttribute("stroke-width", s.width);
    if (s.dash) ln.setAttribute("stroke-dasharray", s.dash);
    ls.appendChild(ln);
    fig.appendChild(ls);
    addDiv(s.label, fl + g.tx, cy - lh / 2, `font-size:${g.fs}px;line-height:${lh}px;height:${lh}px;`);
  });

  // axis titles
  if (col === 0) {
    const cy = ft + fh / 2;
    addDiv("Density [cm<sup>\u22123</sup>]", 24 - 150, cy - 12.5,
      "width:300px;text-align:center;font-size:25px;line-height:25px;transform:rotate(-90deg);transform-origin:50% 50%;");
  }
  if (row === 3) {
    const cx = fl + frameW / 2;
    addDiv("Radius [kpc]", cx - 150, 1258 - 0.8375 * 25, "width:300px;text-align:center;font-size:25px;");
  }
});
</script>
</body>
</html>
